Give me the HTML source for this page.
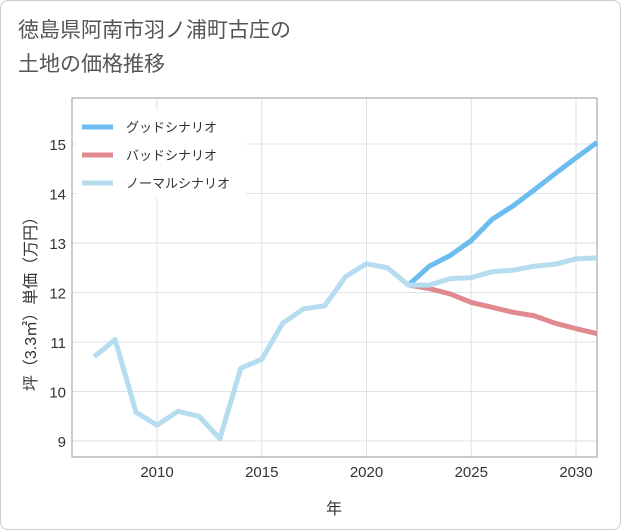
<!DOCTYPE html>
<html><head><meta charset="utf-8"><style>
body{margin:0;background:#fff;font-family:"Liberation Sans","Noto Sans CJK JP",sans-serif;}
#card{position:absolute;left:0;top:0;width:619px;height:528px;border:1px solid #ccc;border-radius:8px;background:#fff;}
#title{position:absolute;left:18px;top:14px;font-size:21px;line-height:34px;color:#555;}
</style></head><body>
<div id="card"></div>
<div id="title">徳島県阿南市羽ノ浦町古庄の<br>土地の価格推移</div>
<svg id="chart" width="621" height="530" style="position:absolute;left:0;top:0"></svg>
<script>
const years=[2007,2008,2009,2010,2011,2012,2013,2014,2015,2016,2017,2018,2019,2020,2021,2022,2023,2024,2025,2026,2027,2028,2029,2030,2031];
const normal=[10.7,11.05,9.58,9.32,9.6,9.5,9.05,10.47,10.65,11.38,11.67,11.73,12.32,12.58,12.5,12.15,12.15,12.28,12.3,12.42,12.45,12.53,12.57,12.68,12.7];
const fYears=[2022,2023,2024,2025,2026,2027,2028,2029,2030,2031];
const good=[12.15,12.53,12.75,13.05,13.48,13.75,14.07,14.4,14.72,15.03];
const bad=[12.15,12.08,11.97,11.8,11.7,11.6,11.53,11.38,11.27,11.17];
const xTicks=[2010,2015,2020,2025,2030];
const yTicks=[9,10,11,12,13,14,15];
const L=72,R=597,T=98,B=457;
const x=v=>157+(v-2010)*20.95;
const y=v=>441-(v-9)*49.5;
const svg=document.getElementById('chart');
const NS='http://www.w3.org/2000/svg';
function mk(t,a){const e=document.createElementNS(NS,t);for(const k in a)e.setAttribute(k,a[k]);svg.appendChild(e);return e;}
for(let yr=2007;yr<=2031;yr++){}
xTicks.forEach(v=>{const l=mk('line',{x1:x(v),x2:x(v),y1:T,y2:B,stroke:'#dde3ea'});


const t=mk('text',{x:x(v),y:477,'text-anchor':'middle','font-size':15,fill:'#333'});t.textContent=v;

});
yTicks.forEach(v=>{const l=mk('line',{x1:L,x2:R,y1:y(v),y2:y(v),stroke:'#dde3ea'});


const t=mk('text',{x:66,y:y(v)+6,'text-anchor':'end','font-size':15,fill:'#333'});t.textContent=v;

});
const fr=mk('rect',{x:L,y:T,width:R-L,height:B-T,fill:'none',stroke:'#999'});


function line(xs,ys,c,n){const p=mk('polyline',{points:xs.map((v,i)=>x(v)+','+y(ys[i])).join(' '),fill:'none',stroke:c,'stroke-width':5,'stroke-linejoin':'round'});

}
line(fYears,good,'#6cbcf0','good-scenario-line');
line(fYears,bad,'#e08a90','bad-scenario-line');
line(years,normal,'#b5dcef','normal-scenario-line');
const lg=mk('rect',{x:76,y:110,width:170,height:88,fill:'#fff'});


[['グッドシナリオ','#6cbcf0'],['バッドシナリオ','#e08a90'],['ノーマルシナリオ','#b5dcef']].forEach((d,i)=>{
const yy=127+i*28;
const l=mk('line',{x1:82,x2:113,y1:yy,y2:yy,stroke:d[1],'stroke-width':5});


const t=mk('text',{x:126,y:yy+5,'font-size':13,fill:'#333'});t.textContent=d[0];

});
const xt=mk('text',{x:334,y:514,'text-anchor':'middle','font-size':16,fill:'#333'});xt.textContent='年';


const yt=mk('text',{x:36,y:300,'text-anchor':'middle','font-size':16,fill:'#333',transform:'rotate(-90 36 300)'});yt.textContent='坪（3.3㎡）単価（万円）';


</script>
</body></html>
